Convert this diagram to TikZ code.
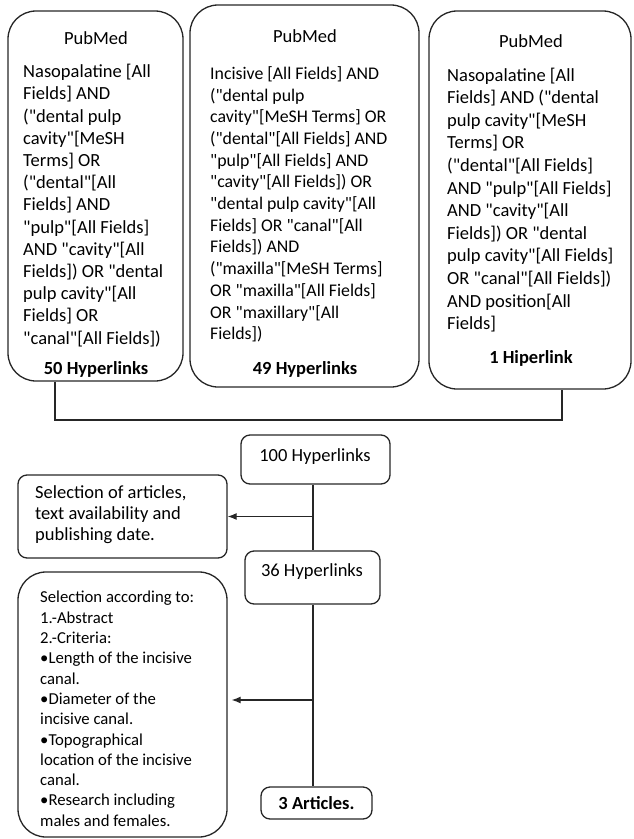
\documentclass[tikz,border=0pt]{standalone}
\usepackage{fontspec}
\setmainfont{Carlito}
\usetikzlibrary{arrows.meta}
\newcommand\qq{\textquotedbl}
\newcommand\fa{\fontsize{18.5}{22.6}\selectfont}
\newcommand\faa{\fontsize{18.5}{22.2}\selectfont}
\newcommand\fb{\fontsize{17.8}{21.7}\selectfont}
\newcommand\fsel{\fontsize{18.5}{21}\selectfont}
\newcommand\lowfont{\fontsize{16.7}{20.3}\selectfont}
\tikzset{
  box/.style={draw=black!85, line width=1.3pt, inner sep=0pt},
  bigbox/.style={box, rounded corners=28pt},
  smallbox/.style={box, rounded corners=9pt},
  body/.style={inner sep=0pt, align=left, anchor=north west},
  ctext/.style={inner sep=0pt, font=\fa},
  link/.style={draw=black!85, line width=1.3pt},
  arr/.style={link, -{Latex[length=9pt,width=7pt]}},
}
\begin{document}
\begin{tikzpicture}[x=1pt,y=-1pt]
\useasboundingbox (0,0) rectangle (634,839);
% top boxes
\node[bigbox, minimum width=175pt, minimum height=370pt] (b1) at (95.5,196) {};
\node[bigbox, minimum width=229pt, minimum height=382pt] (b2) at (304.5,196) {};
\node[bigbox, minimum width=202pt, minimum height=378pt] (b3) at (530,200) {};
\node[ctext] (p1) at (96,38) {PubMed};
\node[ctext] (p2) at (305,36) {PubMed};
\node[ctext] (p3) at (531,41) {PubMed};
\node[body, font=\faa] (t1) at (23,62) {\strut Nasopalatine [All\\Fields] AND\\(\qq{}dental pulp\\cavity\qq{}[MeSH\\Terms] OR\\(\qq{}dental\qq{}[All\\Fields] AND\\\qq{}pulp\qq{}[All Fields]\\AND \qq{}cavity\qq{}[All\\Fields]) OR \qq{}dental\\pulp cavity\qq{}[All\\Fields] OR\\\qq{}canal\qq{}[All Fields])};
\node[body, font=\fb] (t2) at (210,64) {\strut Incisive [All Fields] AND\\(\qq{}dental pulp\\cavity\qq{}[MeSH Terms] OR\\(\qq{}dental\qq{}[All Fields] AND\\\qq{}pulp\qq{}[All Fields] AND\\\qq{}cavity\qq{}[All Fields]) OR\\\qq{}dental pulp cavity\qq{}[All\\Fields] OR \qq{}canal\qq{}[All\\Fields]) AND\\(\qq{}maxilla\qq{}[MeSH Terms]\\OR \qq{}maxilla\qq{}[All Fields]\\OR \qq{}maxillary\qq{}[All\\Fields])};
\node[body, font=\fa] (t3) at (447,65) {\strut Nasopalatine [All\\Fields] AND (\qq{}dental\\pulp cavity\qq{}[MeSH\\Terms] OR\\(\qq{}dental\qq{}[All Fields]\\AND \qq{}pulp\qq{}[All Fields]\\AND \qq{}cavity\qq{}[All\\Fields]) OR \qq{}dental\\pulp cavity\qq{}[All Fields]\\OR \qq{}canal\qq{}[All Fields])\\AND position[All\\Fields]};
\node[ctext, font=\fa\bfseries] (h1) at (96,369) {50 Hyperlinks};
\node[ctext, font=\fa\bfseries] (h2) at (305,369) {49 Hyperlinks};
\node[ctext, font=\fa\bfseries] (h3) at (531,358) {1 Hiperlink};
% bracket
\coordinate (bl) at (55,420);
\coordinate (br) at (562,420);
\draw[link] (b1.south -| bl) -- (bl) -- (br) -- (b3.south -| br);
% lower flow
\node[smallbox, minimum width=149pt, minimum height=49pt] (b100) at (315.5,459.5) {};
\node[ctext] at (315,457) {100 Hyperlinks};
\node[smallbox, minimum width=209pt, minimum height=83pt] (sel) at (122.5,516.5) {};
\node[body, font=\fsel] at (35,484) {\strut Selection of articles,\\text availability and\\publishing date.};
\node[smallbox, minimum width=135pt, minimum height=53pt] (b36) at (312.5,577.5) {};
\node[ctext] at (312,572) {36 Hyperlinks};
\node[bigbox, minimum width=209pt, minimum height=265pt] (crit) at (122.5,704.5) {};
\node[body, font=\lowfont] at (40,588.5) {\strut Selection according to:\\1.-Abstract\\2.-Criteria:\\•Length of the incisive\\canal.\\•Diameter of the\\incisive canal.\\•Topographical\\location of the incisive\\canal.\\•Research including\\males and females.};
\node[smallbox, minimum width=111pt, minimum height=32pt, font=\fa\bfseries] (art) at (316.5,803) {3 Articles.};
\coordinate (spine) at (313,0);
\draw[link] (b100.south -| spine) -- (b36.north -| spine);
\draw[link] (b36.south -| spine) -- (art.north -| spine);
\draw[arr] (sel.east -| spine) -- (sel.east);
\coordinate (a2) at (313,700);
\draw[arr, shorten >=4pt] (a2) -- (a2 -| crit.east);
\end{tikzpicture}
\end{document}
